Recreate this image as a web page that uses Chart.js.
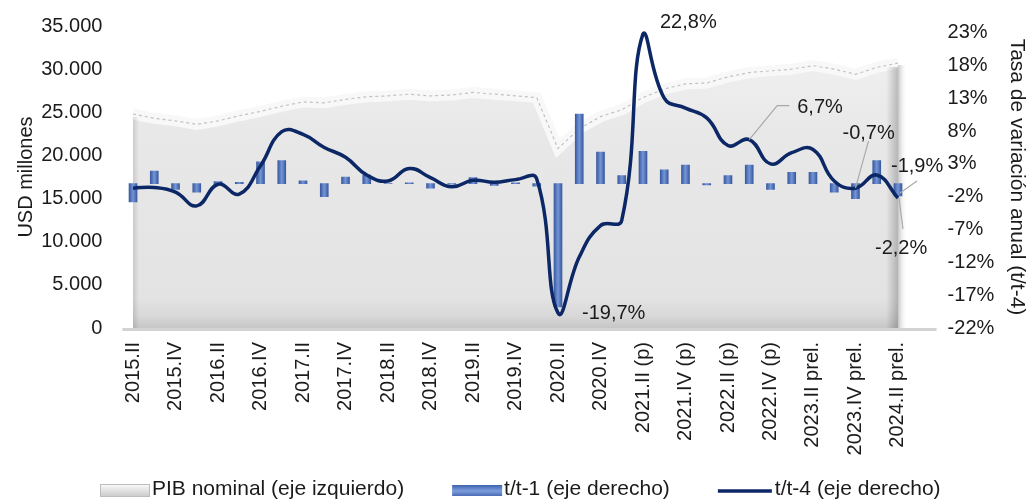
<!DOCTYPE html>
<html>
<head>
<meta charset="utf-8">
<script src="https://cdn.jsdelivr.net/npm/chart.js@4.4.1/dist/chart.umd.min.js"></script>
<style>
html,body{margin:0;padding:0;background:#fff;}
#wrap{width:1029px;height:501px;position:relative;}
</style>
</head>
<body>
<div id="wrap"><canvas id="c" width="1029" height="501"></canvas></div>
<script>
// ---------- DATA ----------
const categories = [
  '2015.II','2015.III','2015.IV','2016.I','2016.II','2016.III','2016.IV','2017.I','2017.II','2017.III',
  '2017.IV','2018.I','2018.II','2018.III','2018.IV','2019.I','2019.II','2019.III','2019.IV','2020.I',
  '2020.II','2020.III','2020.IV','2021.I (p)','2021.II (p)','2021.III (p)','2021.IV (p)','2022.I (p)','2022.II (p)','2022.III (p)',
  '2022.IV (p)','2023.I prel.','2023.II prel.','2023.III prel.','2023.IV prel.','2024.I prel.','2024.II prel.'
];
// PIB nominal, USD millones (left axis)
const pibNominal = [
  24800, 24300, 24000, 23600, 24000, 24600, 25100, 25700, 26200, 26100,
  26500, 26800, 26900, 27100, 26900, 27000, 27300, 27100, 26900, 26700,
  20800, 23100, 24500, 25300, 26700, 27700, 28300, 28400, 29100, 29600,
  29800, 30000, 30400, 30000, 29400, 30200, 30700
];
// t/t-1 (%), right axis
const ttMinus1 = [
  -2.8, 1.9, -0.9, -1.3, 0.3, 0.2, 3.3, 3.5, 0.4, -2.0,
  1.0, 1.3, 0.0, 0.1, -0.7, -0.1, 0.9, -0.3, 0.1, -0.4,
  -18.8, 10.6, 4.8, 1.2, 4.9, 2.1, 2.8, -0.2, 1.2, 2.8,
  -0.9, 1.7, 1.7, -1.3, -2.3, 3.5, -1.9
];
// t/t-4 (%), right axis
const ttMinus4 = [
  -0.7, -0.6, -1.3, -3.4, -0.1, -1.6, 2.7, 7.9, 7.5, 5.5,
  4.0, 1.3, 0.4, 2.3, 0.9, -0.5, 0.5, 0.2, 0.6, 0.7,
  -19.7, -11.2, -6.4, -5.6, 22.8, 13.0, 11.5, 10.0, 5.8, 6.7,
  3.0, 4.7, 5.2, 0.4, -0.7, 1.3, -2.2
];
const leftTicks = [0, 5000, 10000, 15000, 20000, 25000, 30000, 35000];
const rightTicks = [-22, -17, -12, -7, -2, 3, 8, 13, 18, 23];
const seriesNames = ['PIB nominal (eje izquierdo)', 't/t-1 (eje derecho)', 't/t-4 (eje derecho)'];

// ---------- STYLE ----------
const FONT = "'Liberation Sans', Arial, sans-serif";
const TXT = '#1b1b1b';
const NAVY = '#0c2766';

function fmtThousands(v){ return String(v).replace(/\B(?=(\d{3})+(?!\d))/g, '.'); }
function fmtPct(v){ return v.toFixed(1).replace('.', ',') + '%'; }

// annotation placement (pixel offsets from the anchored value)
const annotations = [
  {ds: 3, i: 24, dx: 17, dy: -11, leader: null},
  {ds: 3, i: 20, dx: 24, dy: 1, leader: null},
  {ds: 3, i: 29, dx: 48, dy: -32, leader: [[0,0],[28,-34],[40,-34]]},
  {ds: 3, i: 34, dx: -13, dy: -55, leader: [[0,0],[13,-47]]},
  {ds: 2, i: 36, dx: -7, dy: -30, leader: [[2,-3],[19,-15]]},
  {ds: 3, i: 36, dx: -23, dy: 50, leader: [[1,0],[5,31]]}
];

const decoPlugin = {
  id: 'deco',
  beforeDatasetsDraw(chart){
    const {ctx, chartArea: ca} = chart;
    ctx.save();
    ctx.strokeStyle = '#d3d3d3';
    ctx.lineWidth = 3;
    ctx.beginPath();
    ctx.moveTo(ca.left, ca.bottom + 1.5);
    ctx.lineTo(ca.right + 28, ca.bottom + 1.5);
    ctx.stroke();
    ctx.restore();
  },
  afterDatasetDraw(chart, args){
    if (args.index !== 0) return;
    const {ctx, chartArea: ca, scales} = chart;
    const n = pibNominal.length - 1;
    const x0 = scales.x.getPixelForValue(n);
    const yTop = scales.y.getPixelForValue(pibNominal[n]);
    ctx.save();
    let g = ctx.createLinearGradient(x0 - 12, 0, x0, 0);
    g.addColorStop(0, 'rgba(0,0,0,0)');
    g.addColorStop(1, 'rgba(0,0,0,0.22)');
    ctx.fillStyle = g;
    ctx.fillRect(x0 - 12, yTop + 4, 12, ca.bottom - yTop - 4);
    g = ctx.createLinearGradient(x0, 0, x0 + 9, 0);
    g.addColorStop(0, 'rgba(190,190,190,0.9)');
    g.addColorStop(1, 'rgba(255,255,255,0)');
    ctx.fillStyle = g;
    ctx.fillRect(x0, yTop + 2, 9, ca.bottom - yTop - 2);
    const xl = scales.x.getPixelForValue(0);
    const yl = scales.y.getPixelForValue(pibNominal[0]);
    g = ctx.createLinearGradient(xl, 0, xl + 6, 0);
    g.addColorStop(0, 'rgba(0,0,0,0.12)');
    g.addColorStop(1, 'rgba(0,0,0,0)');
    ctx.fillStyle = g;
    ctx.fillRect(xl, yl + 3, 6, ca.bottom - yl - 3);
    ctx.restore();
  },
  afterDatasetsDraw(chart){
    const {ctx, scales} = chart;
    ctx.save();
    ctx.font = '20px ' + FONT;
    ctx.textBaseline = 'middle';
    ctx.textAlign = 'left';
    annotations.forEach(a => {
      const v = chart.data.datasets[a.ds].data[a.i];
      const px = scales.x.getPixelForValue(a.i);
      const py = scales.y1.getPixelForValue(v);
      if (a.leader){
        ctx.strokeStyle = '#a9a9a9';
        ctx.lineWidth = 1.2;
        ctx.beginPath();
        a.leader.forEach((p, k) => { if (k === 0) ctx.moveTo(px + p[0], py + p[1]); else ctx.lineTo(px + p[0], py + p[1]); });
        ctx.stroke();
      }
      ctx.fillStyle = TXT;
      ctx.fillText(fmtPct(v), px + a.dx, py + a.dy);
    });
    ctx.restore();
  },
  afterDraw(chart){
    const {ctx} = chart;
    ctx.save();
    ctx.font = '21px ' + FONT;
    ctx.textBaseline = 'middle';
    ctx.textAlign = 'left';
    const yc = 489;
    let x = 100;
    seriesNames.forEach((name, k) => {
      if (k === 0){
        const g = ctx.createLinearGradient(0, yc - 5, 0, yc + 8);
        g.addColorStop(0, '#fbfbfb'); g.addColorStop(1, '#c9c9c9');
        ctx.fillStyle = g; ctx.fillRect(x, yc - 5, 50, 13);
        ctx.strokeStyle = '#bdbdbd'; ctx.lineWidth = 1; ctx.strokeRect(x + 0.5, yc - 4.5, 49, 12);
      } else if (k === 1){
        const g = ctx.createLinearGradient(0, yc - 4, 0, yc + 8);
        g.addColorStop(0, '#3f62ad'); g.addColorStop(0.5, '#7e9ddc'); g.addColorStop(1, '#3f62ad');
        ctx.fillStyle = g; ctx.fillRect(x, yc - 4, 50, 11);
      } else {
        ctx.strokeStyle = NAVY; ctx.lineWidth = 3.5;
        ctx.beginPath(); ctx.moveTo(x, yc + 2); ctx.lineTo(x + 54, yc + 2); ctx.stroke();
      }
      const tx = x + (k === 2 ? 57 : 52);
      ctx.fillStyle = TXT;
      ctx.fillText(name, tx, yc);
      x = tx + ctx.measureText(name).width + 48;
    });
    ctx.restore();
  }
};

function fixVertical(width){
  return (s) => { s.width = width; s.paddingTop = 0; s.paddingBottom = 0; };
}

const ctx = document.getElementById('c').getContext('2d');
new Chart(ctx, {
  type: 'bar',
  data: {
    labels: categories,
    datasets: [
      {
        type: 'line',
        label: seriesNames[0],
        data: pibNominal,
        yAxisID: 'y',
        order: 3,
        fill: 'origin',
        tension: 0,
        pointRadius: 0,
        borderColor: '#f8f8f8',
        borderWidth: 11,
        backgroundColor: (c) => {
          const ca = c.chart.chartArea;
          if (!ca) return '#e5e5e5';
          const g = c.chart.ctx.createLinearGradient(0, ca.top, 0, ca.bottom);
          g.addColorStop(0, '#f3f3f3');
          g.addColorStop(0.35, '#e8e8e8');
          g.addColorStop(0.9, '#e3e3e3');
          g.addColorStop(0.96, '#d8d8d8');
          g.addColorStop(1, '#c6c6c6');
          return g;
        }
      },
      {
        type: 'line',
        label: 'pib-edge',
        data: pibNominal,
        yAxisID: 'y',
        order: 2,
        fill: false,
        tension: 0,
        pointRadius: 0,
        borderColor: '#c2c2c2',
        borderWidth: 1.2,
        borderDash: [3, 3]
      },
      {
        type: 'bar',
        label: seriesNames[1],
        data: ttMinus1,
        yAxisID: 'y1',
        order: 1,
        barThickness: 8,
        backgroundColor: (c) => {
          const chart = c.chart;
          const xs = chart.scales && chart.scales.x;
          if (!xs || c.type !== 'data' || !chart.chartArea) return '#4a6ebd';
          const x = xs.getPixelForValue(c.dataIndex);
          const g = chart.ctx.createLinearGradient(x - 4, 0, x + 4, 0);
          g.addColorStop(0, '#3a5aa0');
          g.addColorStop(0.5, '#7495d6');
          g.addColorStop(1, '#3a5aa0');
          return g;
        },
        borderWidth: 0
      },
      {
        type: 'line',
        label: seriesNames[2],
        data: ttMinus4,
        yAxisID: 'y1',
        order: 0,
        fill: false,
        tension: 0.45,
        pointRadius: 0,
        borderColor: NAVY,
        borderWidth: 3.5,
        clip: false
      }
    ]
  },
  options: {
    responsive: false,
    animation: false,
    devicePixelRatio: 1,
    layout: { padding: { top: 26, left: 0, right: 0, bottom: 0 } },
    plugins: { legend: { display: false }, tooltip: { enabled: false } },
    scales: {
      x: {
        offset: true,
        grid: { display: false, drawTicks: false },
        border: { display: false },
        ticks: {
          autoSkip: false,
          minRotation: 90,
          maxRotation: 90,
          padding: 14,
          color: TXT,
          font: { family: FONT, size: 20 },
          callback: (v, i) => (i % 2 === 0 ? categories[i] : '')
        },
        afterFit: (s) => { s.height = 501 - 328; s.paddingLeft = 0; s.paddingRight = 0; }
      },
      y: {
        position: 'left',
        min: 0,
        max: 35000,
        grid: { display: false, drawTicks: false },
        border: { display: false },
        afterBuildTicks: (s) => { s.ticks = leftTicks.map(v => ({ value: v })); },
        ticks: {
          padding: 20,
          color: TXT,
          font: { family: FONT, size: 20 },
          callback: (v) => fmtThousands(v)
        },
        title: {
          display: true,
          text: 'USD millones',
          color: TXT,
          font: { family: FONT, size: 20 },
          padding: { top: 14, bottom: 0 }
        },
        afterFit: fixVertical(122.4)
      },
      y1: {
        position: 'right',
        min: -22,
        max: 24,
        grid: { display: false, drawTicks: false },
        border: { display: false },
        afterBuildTicks: (s) => { s.ticks = rightTicks.map(v => ({ value: v })); },
        ticks: {
          padding: 39,
          color: TXT,
          font: { family: FONT, size: 20 },
          callback: (v) => v + '%'
        },
        title: {
          display: true,
          text: 'Tasa de variación anual (t/t-4)',
          color: TXT,
          font: { family: FONT, size: 21 },
          padding: { top: 0, bottom: 0 }
        },
        afterFit: fixVertical(1029 - 908.6)
      }
    }
  },
  plugins: [decoPlugin]
});
</script>
</body>
</html>
